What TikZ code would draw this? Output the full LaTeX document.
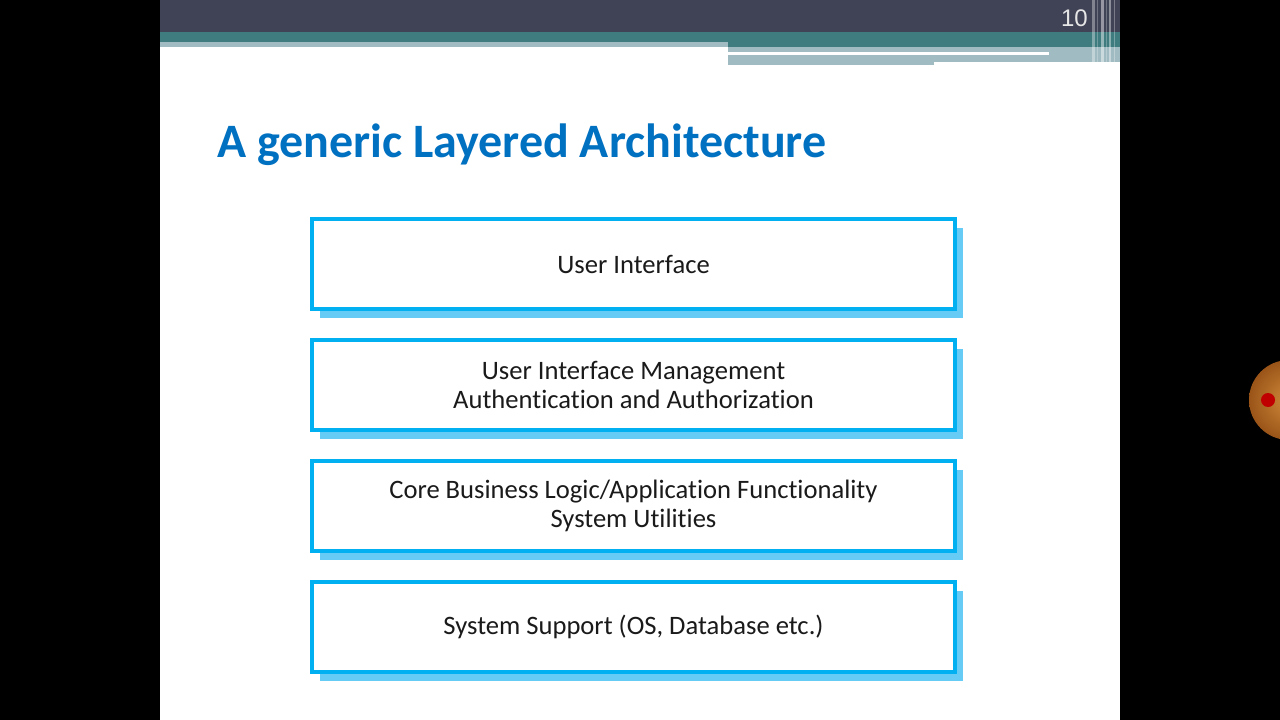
\documentclass[tikz,border=0pt]{standalone}
\usepackage{fontspec}
\setmainfont{Carlito}[Ligatures=NoCommon]
\newfontfamily\numfont{Liberation Sans}
\usetikzlibrary{shadows}
\definecolor{bannerdark}{HTML}{404356}
\definecolor{bannerteal}{HTML}{3F7C80}
\definecolor{bannerlight}{HTML}{A0BCC2}
\definecolor{titleblue}{HTML}{0070C0}
\definecolor{boxblue}{HTML}{00B0F0}
\definecolor{shadowblue}{HTML}{66CCF5}
\definecolor{textdark}{HTML}{1A1A1A}
\definecolor{numgray}{HTML}{E6E6E6}
\definecolor{ballin}{HTML}{D08A3A}
\definecolor{ballout}{HTML}{9A5418}
\definecolor{dotred}{HTML}{C00000}
\begin{document}
\begin{tikzpicture}[x=1pt,y=-1pt,
  layerbox/.style={draw=boxblue, line width=4.3pt, fill=white,
    minimum width=643pt, minimum height=90pt, inner sep=0pt,
    align=center, text=textdark, font=\fontsize{26.6}{29}\selectfont,
    drop shadow={shadow xshift=8pt, shadow yshift=-9pt, fill=shadowblue, opacity=1}},
  stripe/.style={fill=white, opacity=#1},
]
\useasboundingbox (0,0) rectangle (1280,720);
\fill[black] (0,0) rectangle (1280,720);
\fill[white] (160,0) rectangle (1120,720);
% banner
\fill[bannerdark] (160,0) rectangle (1120,32);
\fill[bannerteal] (160,32) rectangle (728,42);
\fill[bannerlight] (160,42) rectangle (728,47);
\fill[bannerteal] (728,32) rectangle (1120,47);
\fill[bannerlight] (728,47) rectangle (1120,62);
\fill[bannerlight] (728,62) rectangle (934,65);
\fill[white] (728,52) rectangle (1049,54.5);
% decorative stripes
\fill[stripe=.35] (1092,0) rectangle (1094.5,64);
\fill[stripe=.25] (1096.5,0) rectangle (1098,64);
\fill[stripe=.45] (1100.5,0) rectangle (1103.5,64);
\fill[stripe=.25] (1105.5,0) rectangle (1107,64);
\fill[stripe=.4] (1109,0) rectangle (1111,64);
\fill[stripe=.3] (1113.5,0) rectangle (1115,64);
% slide number
\node[anchor=base east, inner sep=0pt, text=numgray,
  font=\numfont\fontsize{24}{24}\selectfont] (num) at (1088,27) {10};
% title
\node[anchor=base west, inner sep=0pt, text=titleblue,
  font=\bfseries\fontsize{48}{56}\selectfont] (title) at (217,157) {A generic Layered Architecture};
% layers
\node[layerbox] (l1) at (633.5,264) {User Interface};
\node[layerbox] (l2) at (633.5,385) {User Interface Management\\Authentication and Authorization};
\node[layerbox] (l3) at (633.5,506) {Core Business Logic/Application Functionality\\System Utilities};
\node[layerbox] (l4) at (633.5,627) {System Support (OS, Database etc.)};
% pointer ball at right edge
\shade[inner color=ballin, outer color=ballout] (1289,400) circle (40);
\fill[dotred] (1268,400) circle (7);
\end{tikzpicture}
\end{document}
